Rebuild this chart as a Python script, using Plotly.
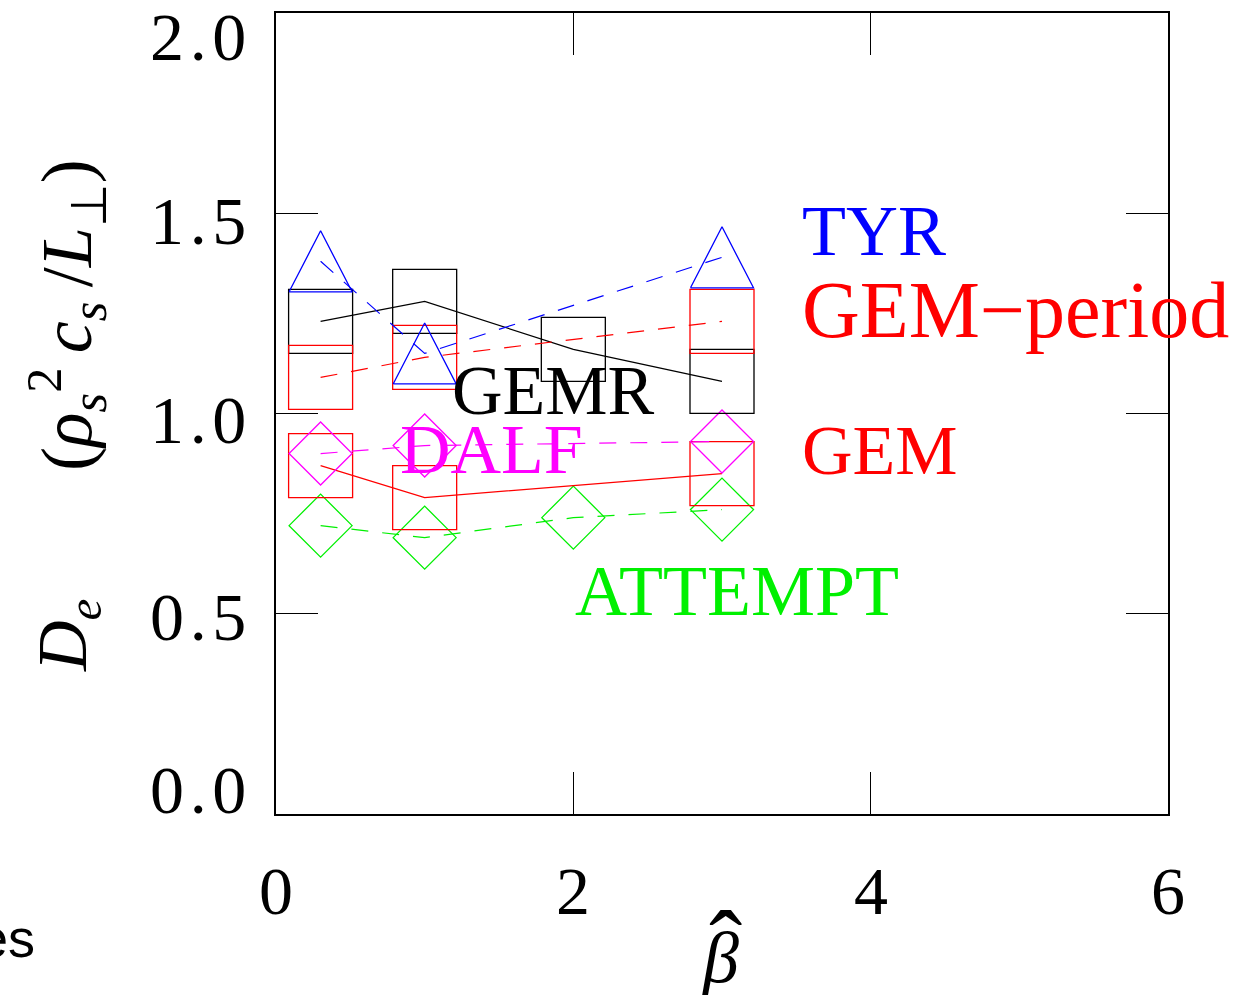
import plotly.graph_objects as go

# Electron diffusivity D_e versus beta-hat for several turbulence codes
beta_3 = [0.3, 1.0, 3.0]
beta_4 = [0.3, 1.0, 2.0, 3.0]

gemr = [1.23, 1.28, 1.16, 1.08]          # GEMR, solid black, squares
gem_period = [1.09, 1.14, 1.23]           # GEM-period, dashed red, squares
tyr = [1.38, 1.15, 1.39]                  # TYR, dashed blue, triangles
dalf = [0.90, 0.92, 0.93]                 # DALF, dashed magenta, diamonds
gem = [0.87, 0.79, 0.85]                  # GEM, solid red, squares
attempt = [0.72, 0.69, 0.74, 0.76]        # ATTEMPT, dashed green, diamonds

x_tick_labels = ["0", "2", "4", "6"]
y_tick_labels = ["0.0", "0.5", "1.0", "1.5", "2.0"]

# ---- geometry of the plotting frame (pixels) ----
W, H = 1247, 995
L, R, T, B = 276, 79, 13, 181
PW, PH = W - L - R, H - T - B
X_RANGE = (0, 6)
Y_RANGE = (0, 2)


def px_x(px):
    return (px - L) / PW


def px_y(py):
    return (H - B - py) / PH


BLUE, RED, MAG, GREEN, BLACK = "#0000ff", "#ff0000", "#ff00ff", "#00f000", "#000000"
SERIF = "Liberation Serif"
DASH = "17px,14px"
LW = 1.2

fig = go.Figure()


def series(xs, ys, color, dash, symbol=None, size=None):
    fig.add_trace(go.Scatter(
        x=xs, y=ys, mode="lines",
        line=dict(color=color, width=LW, dash=dash),
        hoverinfo="skip", showlegend=False))
    if symbol:
        fig.add_trace(go.Scatter(
            x=xs, y=ys, mode="markers",
            marker=dict(symbol=symbol, size=size, color=color,
                        line=dict(color=color, width=1.3)),
            hoverinfo="skip", showlegend=False))


def triangles(xs, ys, color, half_w_px=31.5, half_h_px=30.5):
    # open isosceles triangles centred on each data point
    dx = half_w_px / PW * (X_RANGE[1] - X_RANGE[0])
    dy = half_h_px / PH * (Y_RANGE[1] - Y_RANGE[0])
    tx, ty = [], []
    for xv, yv in zip(xs, ys):
        tx += [xv - dx, xv + dx, xv, xv - dx, None]
        ty += [yv - dy, yv - dy, yv + dy, yv - dy, None]
    fig.add_trace(go.Scatter(
        x=tx, y=ty, mode="lines", line=dict(color=color, width=1.3),
        hoverinfo="skip", showlegend=False))


SQ = 64
DI = 48.5
series(beta_4, attempt, GREEN, DASH, "diamond-open", DI)
series(beta_3, gem, RED, "solid", "square-open", SQ)
series(beta_3, dalf, MAG, DASH, "diamond-open", DI)
series(beta_4, gemr, BLACK, "solid", "square-open", SQ)
series(beta_3, gem_period, RED, DASH, "square-open", SQ)
series(beta_3, tyr, BLUE, DASH)
triangles(beta_3, tyr, BLUE)

# ---- series labels ----
series_labels = [
    ("TYR", 3.524, 1.456, BLUE, 72),
    ("GEM\u2212period", 3.524, 1.259, RED, 80),
    ("GEMR", 1.170, 1.057, BLACK, 70),
    ("DALF", 0.820, 0.909, MAG, 70),
    ("GEM", 3.524, 0.907, RED, 70),
    ("ATTEMPT", 1.997, 0.557, GREEN, 72),
]
annotations = []
for text, xv, yv, col, fs in series_labels:
    annotations.append(dict(
        text=text, x=xv, y=yv, xref="x", yref="y", xanchor="left",
        yanchor="middle", showarrow=False,
        font=dict(family=SERIF, size=fs, color=col)))

# ---- tick labels ----
tick_font = dict(family=SERIF, size=68, color=BLACK)
for t in x_tick_labels:
    annotations.append(dict(
        text=t, x=float(t), y=0, xref="x", yref="paper", xanchor="center",
        yanchor="middle", yshift=-77, showarrow=False, font=tick_font))
y_shift = {"0.0": 24, "0.5": -3, "1.0": -6, "1.5": -8, "2.0": -24}
for t in y_tick_labels:
    annotations.append(dict(
        text=t.replace(".", "\u200a.\u200a"), x=0, y=float(t), xref="paper",
        yref="y", xanchor="right", yanchor="middle", xshift=-28,
        yshift=y_shift[t], showarrow=False, font=tick_font))

# ---- axis titles ----
annotations.append(dict(
    text="<i>D</i><sub><i>e</i></sub>", x=px_x(68), y=px_y(636),
    xref="paper", yref="paper", textangle=-90, xanchor="center",
    yanchor="middle", showarrow=False,
    font=dict(family=SERIF, size=70, color=BLACK)))
annotations.append(dict(
    text="(<i>\u03c1</i><sub><i>s</i></sub><sup>2</sup>\u2009<i>c</i><sub><i>s</i></sub>\u2009/<i>L</i><sub>\u22a5</sub>)",
    x=px_x(66), y=px_y(315), xref="paper", yref="paper", textangle=-90,
    xanchor="center", yanchor="middle", showarrow=False,
    font=dict(family=SERIF, size=72, color=BLACK)))
annotations.append(dict(
    text="<i>\u03b2</i>", x=px_x(720), y=px_y(958), xref="paper",
    yref="paper", xanchor="center", yanchor="middle", showarrow=False,
    font=dict(family=SERIF, size=72, color=BLACK)))
annotations.append(dict(
    text="\u02c6", x=px_x(725), y=px_y(946), xref="paper", yref="paper",
    xanchor="center", yanchor="middle", showarrow=False,
    font=dict(family=SERIF, size=100, color=BLACK)))
annotations.append(dict(
    text="es", x=px_x(37), y=px_y(938), xref="paper", yref="paper",
    xanchor="right", yanchor="middle", showarrow=False,
    font=dict(family="Liberation Sans", size=54, color=BLACK)))

axis_common = dict(
    showline=True, linecolor=BLACK, linewidth=1.5, mirror="ticks",
    ticks="inside", ticklen=42, tickwidth=1.2, tickcolor=BLACK,
    showticklabels=False, showgrid=False, zeroline=False, fixedrange=True)

fig.update_layout(
    width=W, height=H,
    margin=dict(l=L, r=R, t=T, b=B),
    paper_bgcolor="white", plot_bgcolor="white",
    xaxis=dict(range=list(X_RANGE), tickvals=[2, 4], **axis_common),
    yaxis=dict(range=list(Y_RANGE), tickvals=[0.5, 1.0, 1.5], **axis_common),
    annotations=annotations,
    showlegend=False,
)

fig.write_html("out.html")
